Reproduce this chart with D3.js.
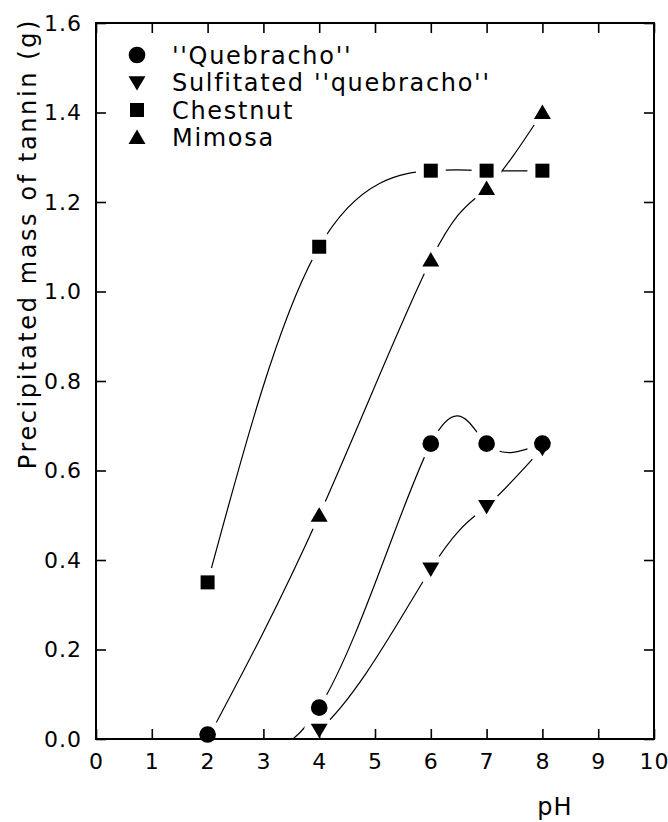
<!DOCTYPE html>
<html>

<head>
    <title>Precipitated mass of tannin vs pH</title>
    <script src="https://d3js.org/d3.v7.min.js" charset="utf-8"></script>
    <style>
        body { margin: 0; background: #fff; }
        text { font-family: "DejaVu Sans", sans-serif; fill: #000; }
    </style>
</head>

<body>
    <script>
        var width = 668;
        var height = 822;
        var margin = { top: 23, right: 14, bottom: 83, left: 96 };

        // data
        var xTicks = [0, 1, 2, 3, 4, 5, 6, 7, 8, 9, 10];
        var yTicks = [0.0, 0.2, 0.4, 0.6, 0.8, 1.0, 1.2, 1.4, 1.6];

        var quebrachoPH = [2, 4, 6, 7, 8];
        var quebrachoMass = [0.01, 0.07, 0.66, 0.66, 0.66];

        var sulfitatedPH = [2, 4, 6, 7, 8];
        var sulfitatedMass = [0.0, 0.02, 0.38, 0.52, 0.65];

        var chestnutPH = [2, 4, 6, 7, 8];
        var chestnutMass = [0.35, 1.10, 1.27, 1.27, 1.27];

        var mimosaPH = [2, 4, 6, 7, 8];
        var mimosaMass = [0.0, 0.50, 1.07, 1.23, 1.40];

        // first point of these two hides under the quebracho circle, no marker drawn
        var series = [
            { name: "''Quebracho''", symbol: "circle", x: quebrachoPH, y: quebrachoMass, markFrom: 0 },
            { name: "Sulfitated ''quebracho''", symbol: "down", x: sulfitatedPH, y: sulfitatedMass, markFrom: 1 },
            { name: "Chestnut", symbol: "square", x: chestnutPH, y: chestnutMass, markFrom: 0 },
            { name: "Mimosa", symbol: "up", x: mimosaPH, y: mimosaMass, markFrom: 1 }
        ];

        var w = width - margin.left - margin.right;
        var h = height - margin.top - margin.bottom;

        var x = d3.scaleLinear().domain([0, 10]).range([0, w]);
        var y = d3.scaleLinear().domain([0, 1.6]).range([h, 0]);

        var svg = d3.select("body").append("svg")
            .attr("width", width)
            .attr("height", height);

        var g = svg.append("g")
            .attr("transform", "translate(" + margin.left + "," + margin.top + ")");

        // symbol paths
        function markerPath(sym) {
            if (sym == "circle") return d3.symbol(d3.symbolCircle, 218)();
            if (sym == "square") return d3.symbol(d3.symbolSquare, 196)();
            var s = 8.5;
            if (sym == "up") return "M0," + (-s * 0.95) + "L" + s + "," + (s * 0.75) + "L" + (-s) + "," + (s * 0.75) + "Z";
            return "M0," + (s * 0.95) + "L" + s + "," + (-s * 0.75) + "L" + (-s) + "," + (-s * 0.75) + "Z";
        }

        g.append("clipPath").attr("id", "plot-clip")
            .append("rect").attr("width", w).attr("height", h);

        // spline curves
        var line = d3.line()
            .x(function (d) { return x(d[0]); })
            .y(function (d) { return y(d[1]); })
            .curve(d3.curveNatural);

        series.forEach(function (s) {
            var pts = s.x.map(function (v, i) { return [v, s.y[i]]; });
            g.append("path")
                .attr("clip-path", "url(#plot-clip)")
                .attr("d", line(pts))
                .attr("fill", "none")
                .attr("stroke", "#000")
                .attr("stroke-width", 1.2);
        });

        // white gaps around markers
        series.forEach(function (s) {
            s.x.forEach(function (v, i) {
                if (i < s.markFrom) return;
                g.append("circle")
                    .attr("cx", x(v))
                    .attr("cy", y(s.y[i]))
                    .attr("r", 15)
                    .attr("fill", "#fff");
            });
        });

        // axes
        var axisStyle = function (sel) {
            sel.select(".domain").remove();
            sel.selectAll("line").attr("stroke", "#000").attr("stroke-width", 1.6);
            sel.selectAll("text").style("font-size", "22px").style("letter-spacing", "1px");
        };

        g.append("g")
            .attr("transform", "translate(0," + h + ")")
            .call(d3.axisBottom(x).tickValues(xTicks).tickSize(-10).tickPadding(14)
                .tickFormat(d3.format("d")))
            .call(axisStyle)
            .selectAll("text").attr("dy", "0.71em");

        g.append("g")
            .call(d3.axisLeft(y).tickValues(yTicks).tickSize(-10).tickPadding(14)
                .tickFormat(d3.format(".1f")))
            .call(axisStyle);

        g.append("g")
            .call(d3.axisTop(x).tickValues(xTicks).tickSize(-10).tickFormat(""))
            .call(axisStyle);

        g.append("g")
            .attr("transform", "translate(" + w + ",0)")
            .call(d3.axisRight(y).tickValues(yTicks).tickSize(-10).tickFormat(""))
            .call(axisStyle);

        g.append("rect")
            .attr("width", w)
            .attr("height", h)
            .attr("fill", "none")
            .attr("stroke", "#000")
            .attr("stroke-width", 2);

        // markers
        series.forEach(function (s) {
            s.x.forEach(function (v, i) {
                if (i < s.markFrom) return;
                g.append("path")
                    .attr("transform", "translate(" + x(v) + "," + y(s.y[i]) + ")")
                    .attr("d", markerPath(s.symbol))
                    .attr("fill", "#000");
            });
        });

        // legend
        var legend = g.append("g").attr("transform", "translate(41,32)");
        series.forEach(function (s, i) {
            var row = legend.append("g").attr("transform", "translate(0," + (i * 27.5) + ")");
            row.append("path").attr("d", markerPath(s.symbol)).attr("fill", "#000");
            row.append("text")
                .attr("x", 35)
                .attr("dy", "0.36em")
                .style("font-size", "24px")
                .style("letter-spacing", "1.7px")
                .text(s.name);
        });

        // axis titles
        svg.append("text")
            .attr("x", 555)
            .attr("y", 815)
            .attr("text-anchor", "middle")
            .style("font-size", "24px")
            .style("letter-spacing", "1px")
            .text("pH");

        svg.append("text")
            .attr("transform", "translate(36,18) rotate(-90)")
            .attr("text-anchor", "end")
            .style("font-size", "24px")
            .style("letter-spacing", "2.6px")
            .text("Precipitated mass of tannin (g)");
    </script>
</body>

</html>
